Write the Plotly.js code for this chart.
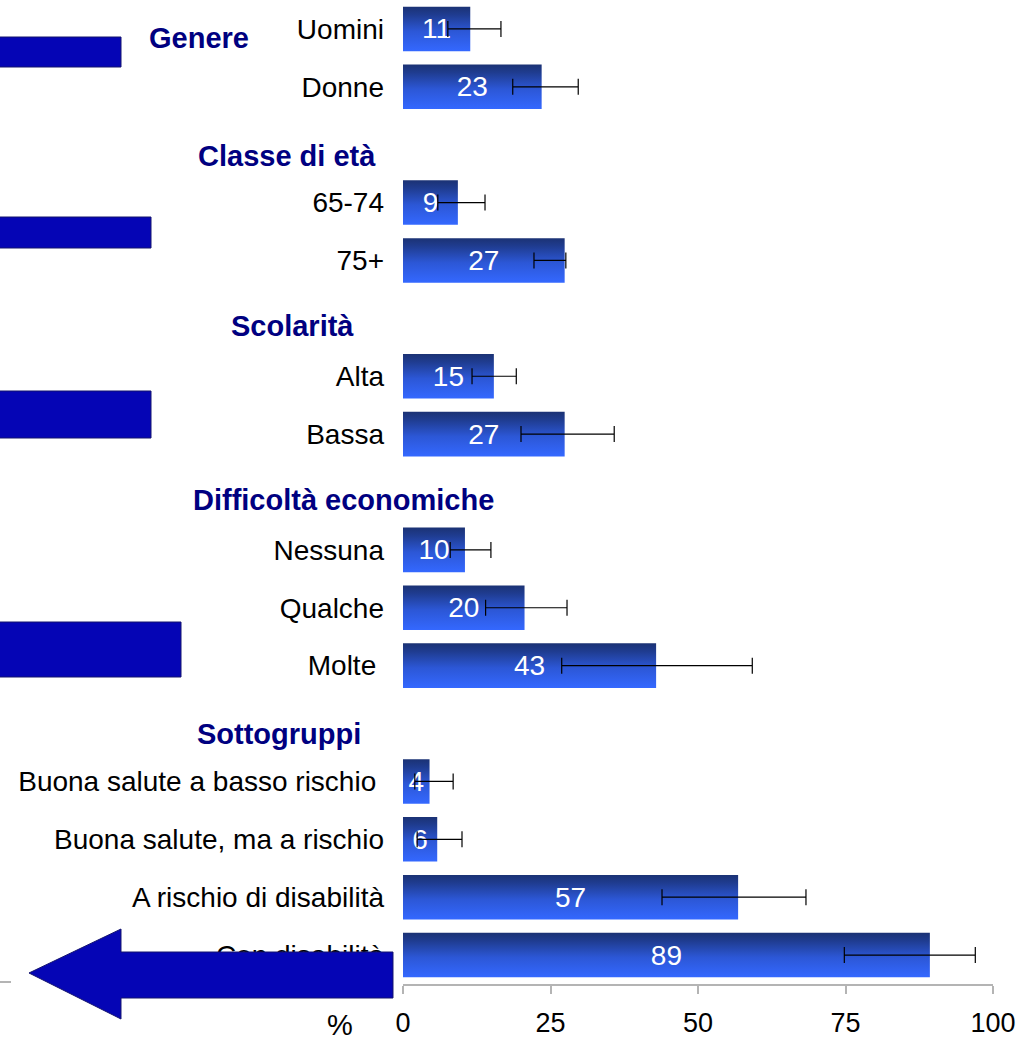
<!DOCTYPE html>
<html><head><meta charset="utf-8">
<script src="https://cdn.plot.ly/plotly-3.0.1.min.js"></script>
<style>html,body{margin:0;padding:0;background:#fff;overflow:hidden}</style>
</head><body>
<div id="chart" style="width:1018px;height:1040px"></div>
<script>
// ---- data ----
const groupTitles = ['Genere', 'Classe di età', 'Scolarità', 'Difficoltà economiche', 'Sottogruppi'];
const categoryOrder = ['Uomini', 'Donne', 'Classe di età', '65-74', '75+', 'Scolarità', 'Alta', 'Bassa',
  'Difficoltà economiche', 'Nessuna', 'Qualche', 'Molte', 'Sottogruppi',
  'Buona salute a basso rischio', 'Buona salute, ma a rischio', 'A rischio di disabilità', 'Con disabilità'];
const categories = ['Uomini', 'Donne', '65-74', '75+', 'Alta', 'Bassa', 'Nessuna', 'Qualche', 'Molte',
  'Buona salute a basso rischio', 'Buona salute, ma a rischio', 'A rischio di disabilità', 'Con disabilità'];
const categoryLabels = ['Uomini', 'Donne', '65-74', '75+', 'Alta', 'Bassa', 'Nessuna', 'Qualche', 'Molte\u00a0',
  'Buona salute a basso rischio\u00a0', 'Buona salute, ma a rischio', 'A rischio di disabilità', 'Con disabilità'];
const values = [11.4, 23.5, 9.3, 27.4, 15.4, 27.4, 10.5, 20.6, 42.9, 4.5, 5.8, 56.8, 89.3];
const valueLabels = ['11', '23', '9', '27', '15', '27', '10', '20', '43', '4', '6', '57', '89'];
const ciLow  = [7.6, 18.6, 5.9, 22.2, 11.7, 20.0, 8.0, 14.0, 26.9, 2.0, 2.4, 43.9, 74.8];
const ciHigh = [16.6, 29.7, 13.9, 27.6, 19.2, 35.8, 14.9, 27.8, 59.2, 8.5, 10.0, 68.3, 97.0];
const xTicks = [0, 25, 50, 75, 100];
const axisUnit = '%';

// ---- geometry helpers (pixel -> paper) ----
const W = 1018, H = 1040, ML = 403, MR = 25, MT = 0, MB = 56;
const PW = W - ML - MR, PH = H - MT - MB;
const px = x => (x - ML) / PW;
const py = y => (H - MB - y) / PH;
const FONT = 'Liberation Sans, Arial, sans-serif';

const errPlus = values.map((v, i) => ciHigh[i] - v);
const errMinus = values.map((v, i) => v - ciLow[i]);

const trace = {
  type: 'bar', orientation: 'h',
  x: values, y: categories,
  text: valueLabels, textposition: 'inside', insidetextanchor: 'middle',
  constraintext: 'none',
  textfont: {family: FONT, size: 28, color: '#ffffff'},
  marker: {color: '#2f5ce6', line: {width: 0}},
  error_x: {type: 'data', symmetric: false, array: errPlus, arrayminus: errMinus,
            color: '#000000', thickness: 1.2, width: 8},
  hoverinfo: 'none', cliponaxis: false
};

const headerRows = ['Uomini', 'Classe di età', 'Scolarità', 'Difficoltà economiche', 'Sottogruppi'];
const headerCenters = [199, 287, 292, 343, 279];
const headerShift = [-9, -11, -8, -8, -10];
const annotations = groupTitles.map((t, i) => ({
  text: t, xref: 'paper', yref: 'y', x: px(headerCenters[i]), y: headerRows[i],
  xanchor: 'center', yanchor: 'middle', yshift: headerShift[i], showarrow: false,
  font: {family: FONT, size: 29, color: '#000080', weight: 'bold'}
}));
annotations.push({
  text: axisUnit, xref: 'paper', yref: 'paper', x: px(340), y: py(1025),
  xanchor: 'center', yanchor: 'middle', showarrow: false,
  font: {family: FONT, size: 29, color: '#000000'}
});

const deco = {fillcolor: '#0505b5', line: {color: '#14146e', width: 1}, layer: 'above',
              xref: 'paper', yref: 'paper'};
const rect = (x0, y0, x1, y1) => Object.assign({type: 'rect', x0: px(x0), x1: px(x1), y0: py(y1), y1: py(y0)}, deco);
const arrowPts = [[29, 973], [121, 929], [121, 952], [393, 952], [393, 998], [121, 998], [121, 1019]];
const arrowPath = 'M ' + arrowPts.map(p => px(p[0]).toFixed(5) + ',' + py(p[1]).toFixed(5)).join(' L ') + ' Z';
const shapes = [
  rect(-2, 37, 121, 67),
  rect(-2, 217, 151, 248),
  rect(-2, 391, 151, 438),
  rect(-2, 622, 181, 677),
  Object.assign({type: 'path', path: arrowPath}, deco),
  {type: 'line', xref: 'paper', yref: 'paper', x0: px(0), x1: px(11), y0: py(982), y1: py(982),
   line: {color: '#b4b4b4', width: 2}, layer: 'below'}
];

const layout = {
  width: W, height: H,
  margin: {l: ML, r: MR, t: MT, b: MB, pad: 0},
  paper_bgcolor: '#ffffff', plot_bgcolor: '#ffffff',
  font: {family: FONT, color: '#000000'},
  showlegend: false,
  bargap: 0.23,
  xaxis: {range: [0, 100], tickmode: 'array', tickvals: xTicks, ticks: 'outside', ticklen: 8,
          tickwidth: 2, tickcolor: '#b4b4b4', showline: true, linecolor: '#b4b4b4', linewidth: 2,
          showgrid: false, zeroline: false, ticklabelstandoff: 6,
          tickfont: {size: 27, color: '#000000'}, fixedrange: true},
  yaxis: {type: 'category', categoryorder: 'array', categoryarray: categoryOrder,
          range: [categoryOrder.length - 0.5, -0.5],
          tickmode: 'array', tickvals: categories, ticktext: categoryLabels,
          ticks: '', showline: false, showgrid: false, zeroline: false,
          ticklabelstandoff: 18, tickfont: {size: 28, color: '#000000'}, fixedrange: true},
  annotations: annotations,
  shapes: shapes
};

Plotly.newPlot('chart', [trace], layout, {staticPlot: true, displayModeBar: false}).then(gd => {
  const svg = gd.querySelector('svg.main-svg');
  const ns = 'http://www.w3.org/2000/svg';
  let defs = svg.querySelector('defs');
  if (!defs) { defs = document.createElementNS(ns, 'defs'); svg.insertBefore(defs, svg.firstChild); }
  const g = document.createElementNS(ns, 'linearGradient');
  g.setAttribute('id', 'barGrad'); g.setAttribute('x1', '0'); g.setAttribute('y1', '0');
  g.setAttribute('x2', '0'); g.setAttribute('y2', '1');
  [['0', '#1b3274'], ['0.18', '#1f3c90'], ['0.55', '#2c57d6'], ['1', '#3468ff']].forEach(s => {
    const st = document.createElementNS(ns, 'stop');
    st.setAttribute('offset', s[0]); st.setAttribute('stop-color', s[1]);
    g.appendChild(st);
  });
  defs.appendChild(g);
  gd.querySelectorAll('.barlayer .point path').forEach(p => { p.style.fill = 'url(#barGrad)'; });
});
</script>
</body></html>
